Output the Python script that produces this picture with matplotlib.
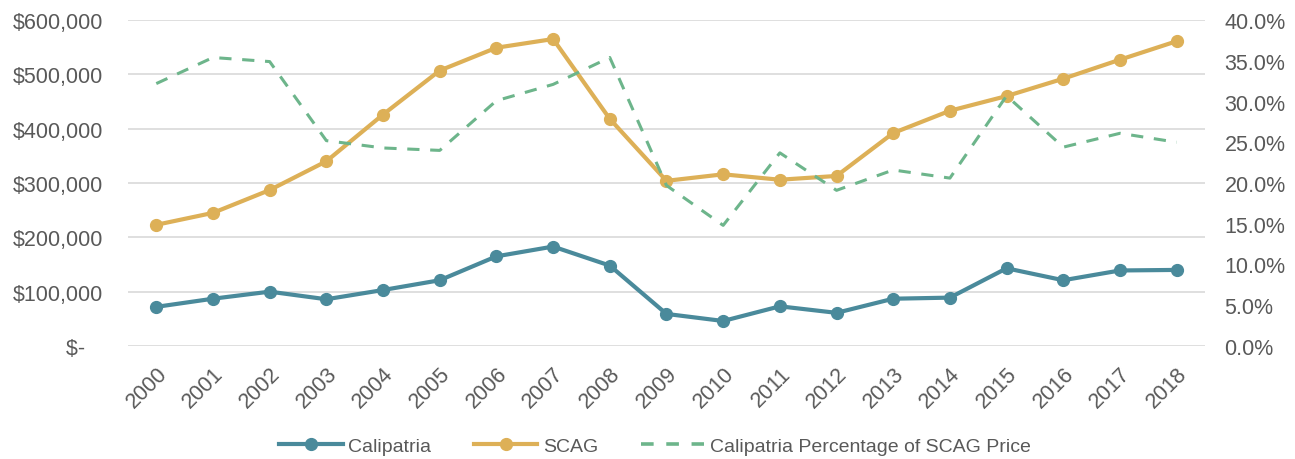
import matplotlib
matplotlib.use("Agg")
import matplotlib.pyplot as plt
from matplotlib.ticker import FuncFormatter, MultipleLocator
from matplotlib.lines import Line2D
from matplotlib.transforms import ScaledTranslation

years = [str(y) for y in range(2000, 2019)]
calipatria = [72000, 87000, 100000, 86000, 103000, 121000, 165000, 183000, 148000,
              59000, 46000, 73000, 61000, 87000, 89000, 143000, 121000, 139000, 140000]
scag = [223000, 245000, 287000, 340000, 426000, 507000, 549000, 565000, 418000,
        304000, 316000, 306000, 313000, 392000, 433000, 460000, 492000, 527000, 561000]
pct_of_scag = [32.2, 35.4, 34.9, 25.2, 24.3, 24.0, 30.1, 32.1, 35.4,
               19.7, 14.8, 23.7, 19.1, 21.6, 20.6, 30.7, 24.4, 26.1, 25.0]

teal = "#4a8a9b"
gold = "#ddb057"
green = "#6db58b"
txt = "#595959"
grid = "#d9d9d9"

plt.rcParams['font.family'] = ['Liberation Sans', 'DejaVu Sans']

fig = plt.figure(figsize=(12.95, 4.6), dpi=100)
ax = fig.add_axes([0.0988, 0.2457, 0.8317, 0.7086])
ax2 = ax.twinx()

x = list(range(len(years)))
ax.plot(x, calipatria, color=teal, lw=3, marker='o', ms=8.5, label="Calipatria")
ax.plot(x, scag, color=gold, lw=3, marker='o', ms=8.5, label="SCAG")
ax2.plot(x, pct_of_scag, color=green, lw=2.2, ls=(0, (4, 3.5)),
         label="Calipatria Percentage of SCAG Price")

ax.set_xlim(-0.5, len(years) - 0.5)
ax.set_ylim(0, 600000)
ax2.set_ylim(0, 40)
ax.yaxis.set_major_locator(MultipleLocator(100000))
ax2.yaxis.set_major_locator(MultipleLocator(5))

def money(v, pos):
    if v == 0:
        return "$-   "
    return "${:,.0f}".format(v)

ax.yaxis.set_major_formatter(FuncFormatter(money))
ax2.yaxis.set_major_formatter(FuncFormatter(lambda v, p: "{:.1f}%".format(v)))

ax.set_xticks(x)
ax.set_xticklabels(years, rotation=45, ha='right', rotation_mode='anchor')
shift = ScaledTranslation(-4 / 100, 0, fig.dpi_scale_trans)
for lab in ax.get_xticklabels():
    lab.set_transform(lab.get_transform() + shift)

ax.grid(axis='y', color=grid, lw=1.2)
ax.set_axisbelow(True)
for a in (ax, ax2):
    for s in a.spines.values():
        s.set_visible(False)
    a.tick_params(length=0, labelsize=15.5, labelcolor=txt)
ax.tick_params(axis='y', pad=18)
ax2.tick_params(axis='y', pad=14)
ax.tick_params(axis='x', pad=12)

handles = [
    Line2D([], [], color=teal, lw=3, marker='o', ms=8.5),
    Line2D([], [], color=gold, lw=3, marker='o', ms=8.5),
    Line2D([], [], color=green, lw=2.6, ls=(0, (3.5, 3.5))),
]
labels = ["Calipatria", "SCAG", "Calipatria Percentage of SCAG Price"]
fig.legend(handles, labels, loc='center', bbox_to_anchor=(0.506, 0.028), ncol=3,
           frameon=False, handlelength=3.25, columnspacing=2.2, handletextpad=0.3,
           prop={'size': 14}, labelcolor=txt)

fig.savefig("out.png", dpi=100)
